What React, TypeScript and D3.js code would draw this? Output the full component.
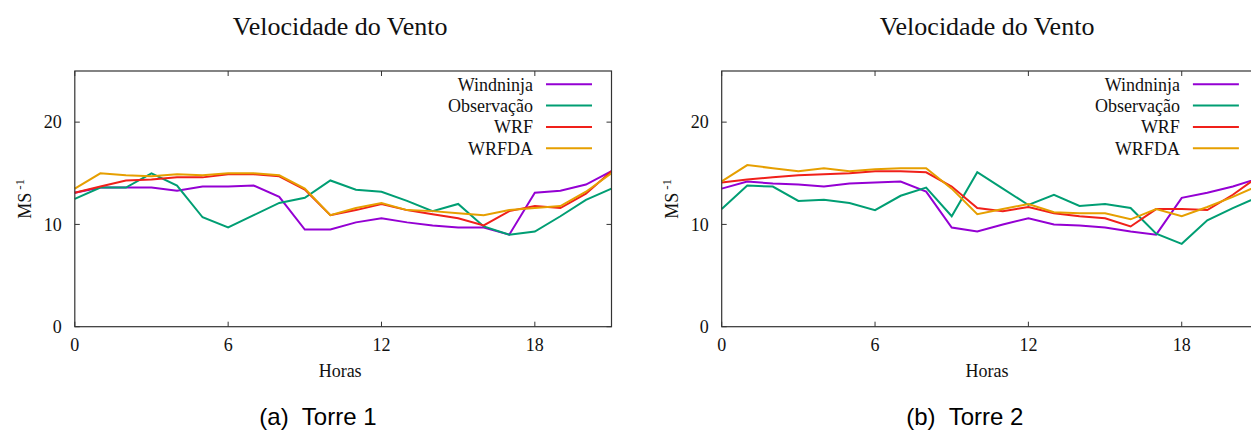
import React from "react";
import * as d3 from "d3";

const hours = [0, 1, 2, 3, 4, 5, 6, 7, 8, 9, 10, 11, 12, 13, 14, 15, 16, 17, 18, 19, 20, 21];
const xTicks = [0, 6, 12, 18];
const yTicks = [0, 10, 20];
const seriesNames = ["Windninja", "Observação", "WRF", "WRFDA"];
const seriesColors = ["#9400d3", "#009e73", "#f0201a", "#e69f00"];

const torre1Windninja = [13.1, 13.6, 13.6, 13.6, 13.3, 13.7, 13.7, 13.8, 12.7, 9.5, 9.5, 10.2, 10.6, 10.2, 9.9, 9.7, 9.7, 9.0, 13.1, 13.3, 13.9, 15.2];
const torre1Obs = [12.5, 13.6, 13.6, 15.0, 13.8, 10.7, 9.7, 10.9, 12.1, 12.6, 14.3, 13.4, 13.2, 12.3, 11.3, 12.0, 9.8, 9.0, 9.3, 10.8, 12.4, 13.5];
const torre1WRF = [13.1, 13.7, 14.3, 14.4, 14.6, 14.6, 14.9, 14.9, 14.7, 13.4, 10.9, 11.4, 12.0, 11.4, 11.0, 10.6, 9.9, 11.3, 11.8, 11.6, 13.0, 15.2];
const torre1WRFDA = [13.5, 15.0, 14.8, 14.7, 14.9, 14.8, 15.0, 15.0, 14.8, 13.5, 10.9, 11.6, 12.1, 11.4, 11.3, 11.1, 10.9, 11.4, 11.6, 11.8, 13.2, 15.0];

const torre2Windninja = [13.5, 14.2, 14.0, 13.9, 13.7, 14.0, 14.1, 14.2, 13.2, 9.7, 9.3, 10.0, 10.6, 10.0, 9.9, 9.7, 9.3, 9.0, 12.6, 13.1, 13.7, 14.5];
const torre2Obs = [11.5, 13.8, 13.7, 12.3, 12.4, 12.1, 11.4, 12.8, 13.6, 10.8, 15.1, 13.5, 11.9, 12.9, 11.8, 12.0, 11.6, 9.1, 8.1, 10.4, 11.6, 12.7];
const torre2WRF = [14.1, 14.4, 14.6, 14.8, 14.9, 15.0, 15.2, 15.2, 15.1, 13.7, 11.6, 11.3, 11.7, 11.1, 10.8, 10.6, 9.8, 11.5, 11.5, 11.4, 12.9, 14.7];
const torre2WRFDA = [14.2, 15.8, 15.5, 15.2, 15.5, 15.2, 15.4, 15.5, 15.5, 13.5, 11.0, 11.5, 12.0, 11.2, 11.1, 11.1, 10.5, 11.5, 10.8, 11.7, 12.7, 13.8];

const SERIF = "'Liberation Serif', 'Times New Roman', serif";
const SANS = "'Liberation Sans', Arial, sans-serif";

type PanelProps = {
  left: number;
  series: number[][];
  tag: string;
  name: string;
};

function Panel({ left, series, tag, name }: PanelProps) {
  const plotW = 536.7;
  const top = 71;
  const bottom = 326.7;
  const right = left + plotW;
  const x = d3.scaleLinear().domain([0, 21]).range([left, right]);
  const y = d3.scaleLinear().domain([0, 25]).range([bottom, top]);
  const line = d3
    .line<number>()
    .x((_, i) => x(hours[i]))
    .y((v) => y(v));
  const cx = (left + right) / 2 - 3;
  const tickLen = 5;
  return (
    <g>
      <text x={cx} y={35} textAnchor="middle" fontFamily={SERIF} fontSize={26} fill="#111">
        Velocidade do Vento
      </text>
      {yTicks.map((t) => (
        <g key={"y" + t}>
          <line x1={left} x2={left + tickLen} y1={y(t)} y2={y(t)} stroke="#333" />
          <line x1={right} x2={right - tickLen} y1={y(t)} y2={y(t)} stroke="#333" />
          <text x={left - 13} y={y(t)} dy="0.35em" textAnchor="end" fontFamily={SERIF} fontSize={18} fill="#111">
            {t}
          </text>
        </g>
      ))}
      {xTicks.map((t) => (
        <g key={"x" + t}>
          <line x1={x(t)} x2={x(t)} y1={bottom} y2={bottom - tickLen} stroke="#333" />
          <line x1={x(t)} x2={x(t)} y1={top} y2={top + tickLen} stroke="#333" />
          <text x={x(t)} y={345} dy="0.35em" textAnchor="middle" fontFamily={SERIF} fontSize={18} fill="#111">
            {t}
          </text>
        </g>
      ))}
      {series.map((s, i) => (
        <path key={i} d={line(s) || ""} fill="none" stroke={seriesColors[i]} strokeWidth={2} strokeLinejoin="miter" />
      ))}
      <rect x={left} y={top} width={plotW} height={bottom - top} fill="none" stroke="#333" strokeWidth={1.2} />
      {seriesNames.map((n, i) => {
        const ly = 84.3 + i * 21.3;
        return (
          <g key={n}>
            <text x={right - 78.5} y={ly} dy="0.35em" textAnchor="end" fontFamily={SERIF} fontSize={18} fill="#111">
              {n}
            </text>
            <line x1={right - 65.5} x2={right - 19.5} y1={ly} y2={ly} stroke={seriesColors[i]} strokeWidth={2} />
          </g>
        );
      })}
      <text x={cx} y={377} textAnchor="middle" fontFamily={SERIF} fontSize={18} fill="#111">
        Horas
      </text>
      <text
        transform={`translate(${left - 44},${(top + bottom) / 2}) rotate(-90)`}
        textAnchor="middle"
        fontFamily={SERIF}
        fontSize={18}
        fill="#111"
      >
        MS
        <tspan fontSize={13} dx={3} dy={-7}>-1</tspan>
      </text>
      <text x={left + 184.5} y={425} fontFamily={SANS} fontSize={24} fill="#000">
        {tag}
      </text>
      <text x={left + 227} y={425} fontFamily={SANS} fontSize={24} fill="#000">
        {name}
      </text>
    </g>
  );
}

export default function App() {
  return (
    <svg
      width={1251}
      height={431}
      style={{ position: "absolute", left: 0, top: 0, background: "#fff" }}
    >
      <rect x={0} y={0} width={1251} height={431} fill="#fff" />
      <Panel left={74.8} series={[torre1Windninja, torre1Obs, torre1WRF, torre1WRFDA]} tag="(a)" name="Torre 1" />
      <Panel left={721.7} series={[torre2Windninja, torre2Obs, torre2WRF, torre2WRFDA]} tag="(b)" name="Torre 2" />
    </svg>
  );
}
